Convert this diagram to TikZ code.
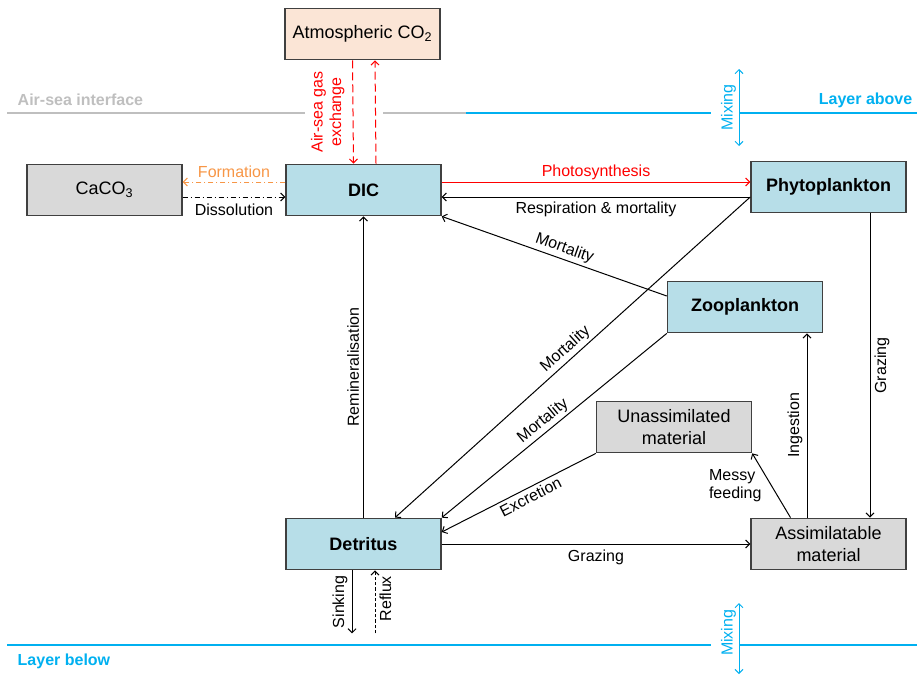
\documentclass[tikz,border=0pt]{standalone}
\usepackage{fontspec}
\setmainfont{Liberation Sans}
\usetikzlibrary{arrows.meta,calc}
\definecolor{boxblue}{HTML}{B7DEE8}
\definecolor{boxgray}{HTML}{D9D9D9}
\definecolor{boxpeach}{HTML}{FBE5D6}
\definecolor{bordergray}{HTML}{404040}
\definecolor{layerblue}{HTML}{00B0F0}
\definecolor{ifgray}{HTML}{BFBFBF}
\definecolor{formorange}{HTML}{F79646}
\definecolor{flowred}{HTML}{FF0000}
\begin{document}
\begin{tikzpicture}[x=0.75pt,y=-0.75pt,
  box/.style={draw=bordergray, line width=1.1pt, minimum width=116.25pt, minimum height=38.5pt, inner sep=0pt, font=\fontsize{13.5}{16}\selectfont, align=center},
  bbox/.style={box, font=\bfseries\fontsize{13.5}{16}\selectfont},
  lbl/.style={font=\fontsize{12}{14}\selectfont, text=black},
  flow/.style={line width=0.75pt, -{Straight Barb[length=3pt,width=6pt]}},
  flowboth/.style={line width=0.75pt, {Straight Barb[length=3pt,width=6pt]}-{Straight Barb[length=3pt,width=6pt]}},
  layerline/.style={line width=1.5pt},
]
\useasboundingbox (0,0) rectangle (917,676);

% layer lines
\draw[layerline, ifgray] (7,113) -- (305,113);
\draw[layerline, ifgray] (383,113) -- (466,113);
\draw[layerline, layerblue] (466,113) -- (711,113);
\draw[layerline, layerblue] (739,113) -- (917,113);
\draw[layerline, layerblue] (7,645) -- (711,645);
\draw[layerline, layerblue] (739,645) -- (917,645);
\node[anchor=west, font=\bfseries\fontsize{12}{14}\selectfont, text=ifgray] (ifl) at (13,100) {Air-sea interface};
\node[anchor=east, font=\bfseries\fontsize{12}{14}\selectfont, text=layerblue] (lab) at (917,100) {Layer above};
\node[anchor=west, font=\bfseries\fontsize{12}{14}\selectfont, text=layerblue] (lbe) at (13,661) {Layer below};
\coordinate (mixAt) at (739,69);
\coordinate (mixAb) at (739,146);
\coordinate (mixBt) at (739,603);
\coordinate (mixBb) at (739,674);
\draw[flowboth, layerblue] (mixAt) -- node[midway, anchor=south, rotate=90, lbl, text=layerblue, inner sep=2pt] {Mixing} (mixAb);
\draw[flowboth, layerblue] (mixBt) -- node[pos=0.42, anchor=south, rotate=90, lbl, text=layerblue, inner sep=2pt] {Mixing} (mixBb);

% boxes
\node[box, fill=boxpeach] (atm) at (362.5,34) {Atmospheric CO\textsubscript{2}};
\node[bbox, fill=boxblue] (dic) at (363.5,190) {DIC};
\node[box, fill=boxgray] (caco3) at (104.5,190) {CaCO\textsubscript{3}};
\node[bbox, fill=boxblue] (phyto) at (828.5,187) {Phytoplankton};
\node[bbox, fill=boxblue] (zoo) at (745,307) {Zooplankton};
\node[box, fill=boxgray] (unas) at (674,427) {Unassimilated\\material};
\node[bbox, fill=boxblue] (det) at (363.5,544) {Detritus};
\node[box, fill=boxgray] (assim) at (828.5,544) {Assimilatable\\material};

% air-sea gas exchange
\draw[flow, flowred, dash pattern=on 6pt off 3pt] ($(atm.south)+(-10,0)$) -- node[midway, anchor=south, rotate=90, lbl, text=flowred, align=center, inner sep=6pt] {Air-sea gas\\exchange} ($(dic.north)+(-10,0)$);
\draw[flow, flowred, dash pattern=on 6pt off 3pt] ($(dic.north)+(12.5,0)$) -- ($(atm.south)+(12.5,0)$);

% CaCO3
\draw[flow, formorange, dash pattern=on 4pt off 2pt on 1pt off 2pt] ($(dic.west)+(0,-8)$) -- node[midway, above, lbl, text=formorange, inner sep=3pt] {Formation} ($(caco3.east)+(0,-8)$);
\draw[flow, black, dash pattern=on 4pt off 2pt on 1pt off 2pt] ($(caco3.east)+(0,7)$) -- node[midway, below, lbl, inner sep=4.5pt] {Dissolution} ($(dic.west)+(0,7)$);

% DIC <-> phyto
\draw[flow, flowred] ($(dic.east)+(0,-8)$) -- node[midway, above, lbl, text=flowred, inner sep=1.5pt] {Photosynthesis} ($(phyto.west)+(0,-5)$);
\coordinate (phL) at ($(phyto.west)+(0,10)$);
\draw[flow] (phL) -- node[midway, below, lbl, inner sep=3pt] {Respiration \& mortality} (phL -| dic.east);

% mortality
\draw[flow] ($(zoo.west)+(0,-11)$) -- node[pos=0.47, sloped, above, lbl, inner sep=2pt] {Mortality} (dic.south east);
\draw[flow] (phL) -- node[pos=0.5, sloped, above, lbl, inner sep=2pt] {Mortality} ($(det.north)+(31.5,0)$);
\draw[flow] (zoo.south west) -- node[pos=0.52, sloped, above, lbl, inner sep=2pt] {Mortality} (det.north east);
\draw[flow] (unas.south west) -- node[pos=0.45, sloped, below, lbl, inner sep=2pt] {Excretion} ($(det.east)+(0,-12)$);

% detritus
\draw[flow] (det.east) -- node[midway, below, lbl, inner sep=4pt] {Grazing} (assim.west);
\draw[flow] (det.north) -- node[midway, anchor=south, rotate=90, lbl, inner sep=3pt] {Remineralisation} (dic.south);
\coordinate (sinkE) at ($(det.south)+(-11.5,63)$);
\coordinate (refS) at ($(det.south)+(11.5,63)$);
\draw[flow] ($(det.south)+(-11.5,0)$) -- node[midway, anchor=south, rotate=90, lbl, inner sep=3pt] {Sinking} (sinkE);
\draw[flow, dash pattern=on 2.5pt off 1.5pt] (refS) -- node[pos=0.55, anchor=north, rotate=90, lbl, inner sep=3pt] {Reflux} ($(det.south)+(11.5,0)$);

% grazing / ingestion / messy feeding
\draw[flow] ($(phyto.south)+(41.5,0)$) -- node[midway, anchor=north, rotate=90, lbl, inner sep=3pt] {Grazing} ($(assim.north)+(41.5,0)$);
\draw[flow] ($(assim.north)+(-21.5,0)$) -- node[midway, anchor=south, rotate=90, lbl, inner sep=3pt] {Ingestion} ($(zoo.south)+(62,0)$);
\draw[flow] ($(assim.north)+(-38,0)$) -- node[midway, left, lbl, align=left, inner sep=3pt, xshift=-4pt] {Messy\\feeding} (unas.south east);
\end{tikzpicture}
\end{document}
